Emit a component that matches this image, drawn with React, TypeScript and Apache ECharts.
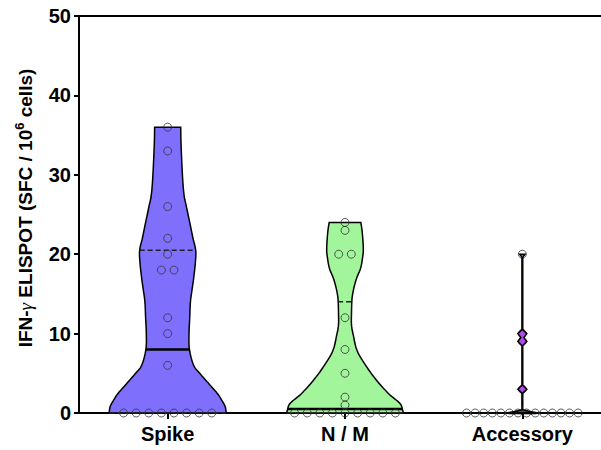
import React, { useEffect, useRef } from "react";
import * as echarts from "echarts";

// ---------- data ----------
const categories = ["Spike", "N / M", "Accessory"];
const spikeValues = [0, 0, 0, 0, 0, 0, 0, 0, 6, 10, 12, 18, 18, 20, 22, 26, 33, 36];
const nmValues = [0, 0, 0, 0, 0, 0, 0, 0, 0, 1, 2, 5, 8, 12, 20, 20, 23, 24];
const accessoryValues = [0, 0, 0, 0, 0, 0, 0, 0, 0, 0, 0, 0, 0, 0, 3, 9, 10, 20];
const yTicks = [0, 10, 20, 30, 40, 50];

// violin outlines: level (y value) and relative half-width (1 = widest)
const spikeLevels = [36, 34, 30, 27.5, 26, 24, 22, 20.5, 19, 17, 15.5, 14, 12, 10, 8, 6, 5, 3.6, 2.4, 1.6, 0.8, 0];
const spikeWidths = [0.223, 0.228, 0.252, 0.279, 0.32, 0.377, 0.433, 0.479, 0.474, 0.445, 0.416, 0.389, 0.377, 0.365, 0.372, 0.445, 0.548, 0.714, 0.856, 0.925, 0.983, 1];
const nmLevels = [24, 22.8, 20.7, 19.5, 18.2, 17, 15.7, 14.4, 12.6, 11.1, 9.8, 7.8, 5.8, 4.1, 2.4, 1.2, 0.3, 0];
const nmWidths = [0.27, 0.294, 0.313, 0.299, 0.265, 0.2, 0.15, 0.12, 0.111, 0.111, 0.142, 0.21, 0.371, 0.542, 0.75, 0.94, 0.986, 1];
const accLevels = [20, 19.6, 10.5, 10, 9.5, 9, 8.5, 3.5, 3, 2.5, 0.4, 0];
const accWidths = [0.045, 0.007, 0.007, 0.077, 0.026, 0.077, 0.007, 0.007, 0.077, 0.007, 0.007, 0.24];

// ---------- styles ----------
const FONT = "'Liberation Sans', Arial, sans-serif";
const VIOLIN_HALF = 0.33; // max half width as fraction of band
const POINT_GAP = 12.6;
const POINT_SPREAD = 111.6;

const groups = [
  { values: spikeValues, levels: spikeLevels, widths: spikeWidths, color: "#7f6ffd", smooth: true, over: false },
  { values: nmValues, levels: nmLevels, widths: nmWidths, color: "#a3f59c", smooth: true, over: false },
  { values: accessoryValues, levels: accLevels, widths: accWidths, color: "#b04ae8", smooth: false, over: true },
];

function quantile(vals: number[], p: number) {
  const s = vals.slice().sort((a, b) => a - b);
  const n = s.length;
  const pos = (n + 1) * p;
  if (pos <= 1) return s[0];
  if (pos >= n) return s[n - 1];
  const lo = Math.floor(pos);
  const f = pos - lo;
  return s[lo - 1] + f * (s[lo] - s[lo - 1]);
}

function widthAt(levels: number[], widths: number[], v: number) {
  for (let k = 0; k < levels.length - 1; k++) {
    const a = levels[k], b = levels[k + 1];
    if ((v <= a && v >= b) || (v >= a && v <= b)) {
      const t = a === b ? 0 : (v - a) / (b - a);
      return widths[k] + t * (widths[k + 1] - widths[k]);
    }
  }
  return 0;
}

function catmull(pts: number[][], seg = 8) {
  const out: number[][] = [];
  for (let i = 0; i < pts.length - 1; i++) {
    const p0 = pts[Math.max(i - 1, 0)], p1 = pts[i], p2 = pts[i + 1], p3 = pts[Math.min(i + 2, pts.length - 1)];
    for (let s = 0; s < seg; s++) {
      const t = s / seg, t2 = t * t, t3 = t2 * t;
      out.push([0, 1].map((d) =>
        0.5 * (2 * p1[d] + (-p0[d] + p2[d]) * t + (2 * p0[d] - 5 * p1[d] + 4 * p2[d] - p3[d]) * t2 + (-p0[d] + 3 * p1[d] - 3 * p2[d] + p3[d]) * t3)
      ));
    }
  }
  out.push(pts[pts.length - 1]);
  return out;
}

function renderViolin(params: any, api: any) {
  const i = api.value(0);
  const g = groups[i];
  const cx = api.coord([i, 0])[0];
  const band = api.size([1, 0])[0];
  const maxHW = band * VIOLIN_HALF;
  const pts = g.levels.map((lv, k) => [api.coord([i, lv])[1], Math.max(0, g.widths[k]) * maxHW]);
  const dense = (g.smooth ? catmull(pts) : pts).map(([y, w]) => [y, Math.max(0, w)]);
  const right = dense.map(([y, w]) => [cx + w, y]);
  const left = dense.slice().reverse().map(([y, w]) => [cx - w, y]);
  const med = quantile(g.values, 0.5);
  const q1 = quantile(g.values, 0.25);
  const q3 = quantile(g.values, 0.75);
  const hLine = (v: number, style: any) => {
    const w = widthAt(g.levels, g.widths, v) * maxHW;
    const y = api.coord([i, v])[1];
    return { type: "line", shape: { x1: cx - w, y1: y, x2: cx + w, y2: y }, style };
  };
  return {
    type: "group",
    children: [
      { type: "polygon", shape: { points: right.concat(left) }, style: { fill: g.color, stroke: "#000", lineWidth: 1.5 } },
      hLine(q1, { stroke: "#222", lineWidth: 1.5, lineDash: [5, 3] }),
      hLine(q3, { stroke: "#222", lineWidth: 1.5, lineDash: [5, 3] }),
      hLine(med, { stroke: "#000", lineWidth: 2.6 }),
    ],
  };
}

function swarm(values: number[], gi: number) {
  const counts: Record<string, number> = {};
  const seen: Record<string, number> = {};
  values.forEach((v) => (counts[v] = (counts[v] || 0) + 1));
  return values.map((v) => {
    const k = counts[v];
    const j = seen[v] || 0;
    seen[v] = j + 1;
    const gap = k > 1 ? Math.min(POINT_GAP, POINT_SPREAD / (k - 1)) : 0;
    return { value: [gi, v], symbolOffset: [(j - (k - 1) / 2) * gap, 0] };
  });
}

export default function App() {
  const ref = useRef<HTMLDivElement>(null);
  useEffect(() => {
    document.body.style.margin = "0";
    const chart = echarts.init(ref.current!, null, { renderer: "svg" });
    const axisLine = { show: true, lineStyle: { color: "#000", width: 2 } };
    chart.setOption({
      animation: false,
      backgroundColor: "#fff",
      grid: { left: 79, top: 16, width: 532, height: 397, containLabel: false, outerBoundsMode: "none" },
      xAxis: [
        {
          type: "category",
          data: categories,
          boundaryGap: true,
          axisLine,
          axisTick: { show: true, alignWithLabel: true, length: 6, lineStyle: { color: "#000", width: 2 } },
          axisLabel: { color: "#000", fontWeight: "bold", fontSize: 20, fontFamily: FONT, margin: 11 },
          splitLine: { show: false },
        },
        {
          type: "category",
          data: categories,
          position: "top",
          axisLine,
          axisTick: { show: false },
          axisLabel: { show: false },
          splitLine: { show: false },
        },
      ],
      yAxis: {
        type: "value",
        min: yTicks[0],
        max: yTicks[yTicks.length - 1],
        interval: yTicks[1] - yTicks[0],
        axisLine,
        axisTick: { show: true, length: 5, lineStyle: { color: "#000", width: 2 } },
        axisLabel: { color: "#000", fontWeight: "bold", fontSize: 20, fontFamily: FONT, margin: 8 },
        splitLine: { show: false },
        name: "{b|IFN-}{g|γ}{b| ELISPOT (SFC / 10}{s|6}{b| cells)}",
        nameLocation: "middle",
        nameRotate: 90,
        nameGap: 42,
        nameTextStyle: {
          padding: [0, 0, 0, 13],
          rich: {
            b: { fontFamily: FONT, fontWeight: "bold", fontSize: 19, color: "#000", lineHeight: 24 },
            g: { fontFamily: "'Liberation Serif', serif", fontStyle: "italic", fontSize: 19, color: "#000", lineHeight: 24 },
            s: { fontFamily: FONT, fontWeight: "bold", fontSize: 13, color: "#000", lineHeight: 12, verticalAlign: "top" },
          },
        },
      },
      series: [
        {
          type: "custom",
          renderItem: renderViolin,
          data: groups.map((g, i) => (g.over ? null : [i])).filter((d) => d),
          encode: { x: 0 },
          z: 2,
          silent: true,
        },
        {
          type: "scatter",
          data: groups.flatMap((g, i) => swarm(g.values, i)),
          symbol: "circle",
          symbolSize: 8,
          itemStyle: { color: "rgba(0,0,0,0)", borderColor: "#333", borderWidth: 1 },
          z: 3,
          silent: true,
        },
        {
          type: "custom",
          renderItem: renderViolin,
          data: groups.map((g, i) => (g.over ? [i] : null)).filter((d) => d),
          encode: { x: 0 },
          z: 4,
          silent: true,
        },
      ],
    });
    return () => chart.dispose();
  }, []);
  return <div ref={ref} style={{ position: "fixed", left: 0, top: 0, width: 601, height: 450 }} />;
}
